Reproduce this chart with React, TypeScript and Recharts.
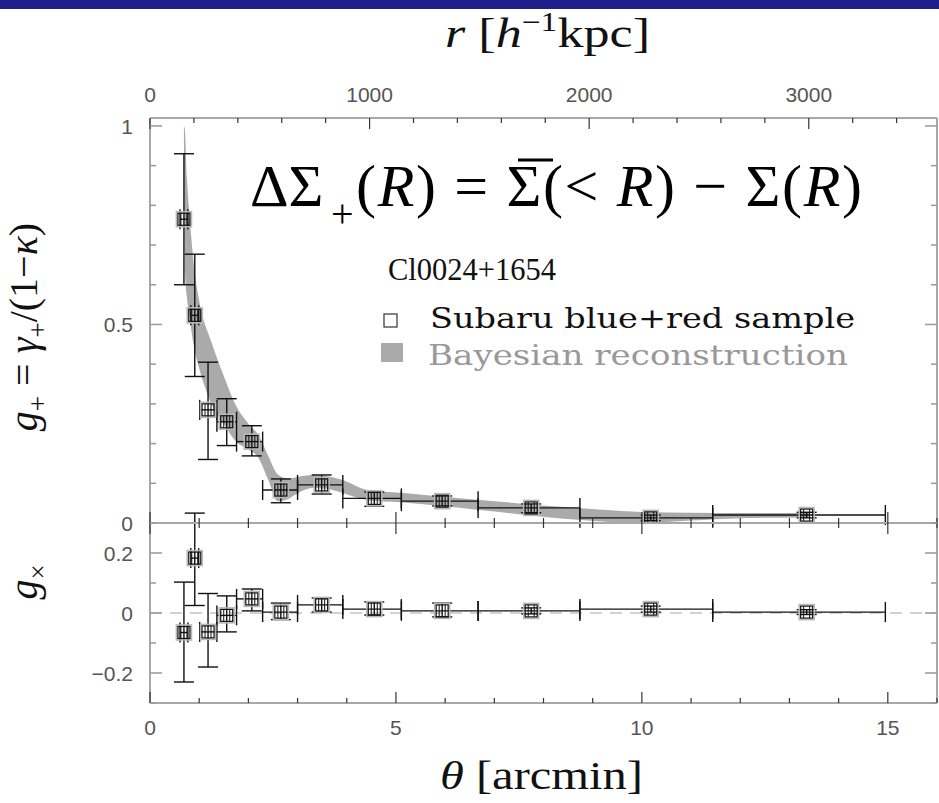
import React from "react";
import { ComposedChart, Area, Scatter, XAxis, YAxis, ErrorBar, ReferenceLine } from "recharts";

/* radial bins [arcmin] */
const theta = [0.69, 0.91, 1.18, 1.56, 2.07, 2.66, 3.49, 4.56, 5.94, 7.75, 10.18, 13.35];
const binLo = [0.61, 0.83, 1.01, 1.36, 1.76, 2.29, 3.0, 3.92, 5.11, 6.67, 8.74, 11.44];
const binHi = [0.77, 0.99, 1.36, 1.76, 2.29, 3.0, 3.92, 5.11, 6.67, 8.74, 11.44, 14.95];

/* tangential shear g+ with error range */
const gPlus = [0.765, 0.523, 0.285, 0.255, 0.205, 0.083, 0.096, 0.062, 0.055, 0.038, 0.013, 0.02];
const gPlusLo = [0.6, 0.369, 0.16, 0.195, 0.169, 0.051, 0.073, 0.042, 0.043, 0.026, 0.006, 0.013];
const gPlusHi = [0.93, 0.677, 0.405, 0.313, 0.245, 0.111, 0.121, 0.078, 0.068, 0.048, 0.02, 0.027];

/* cross shear gx with error range */
const gCross = [-0.065, 0.183, -0.063, -0.008, 0.047, 0.003, 0.027, 0.013, 0.007, 0.007, 0.013, 0.003];
const gCrossLo = [-0.23, 0.025, -0.18, -0.063, 0.007, -0.022, 0.003, -0.007, -0.013, -0.003, 0.003, -0.005];
const gCrossHi = [0.103, 0.333, 0.065, 0.057, 0.08, 0.033, 0.05, 0.037, 0.033, 0.017, 0.023, 0.011];

/* Bayesian reconstruction band */
const bandTheta = [0.69, 0.71, 0.75, 0.8, 0.9, 1.0, 1.25, 1.5, 1.75, 2.0, 2.2, 2.4, 2.6, 2.8, 3.0, 3.3, 3.6, 3.9, 4.4, 5.1, 6.7, 8.7, 10.0, 11.0, 12.0, 13.4];
const bandLo = [0.97, 0.64, 0.57, 0.52, 0.44, 0.39, 0.3, 0.25, 0.205, 0.185, 0.165, 0.11, 0.055, 0.06, 0.075, 0.088, 0.086, 0.076, 0.058, 0.052, 0.033, 0.008, 0.0, 0.006, 0.012, 0.014];
const bandHi = [1.0, 0.99, 0.87, 0.78, 0.64, 0.56, 0.455, 0.37, 0.295, 0.25, 0.222, 0.17, 0.122, 0.112, 0.116, 0.121, 0.118, 0.109, 0.084, 0.076, 0.058, 0.038, 0.028, 0.026, 0.025, 0.025];

/* ticks */
const thetaTicks = [0, 1, 2, 3, 4, 5, 6, 7, 8, 9, 10, 11, 12, 13, 14, 15, 16];
const thetaMajor = [0, 5, 10, 15];
const kpcTicks = [0, 200, 400, 600, 800, 1000, 1200, 1400, 1600, 1800, 2000, 2200, 2400, 2600, 2800, 3000, 3200, 3400];
const kpcMajor = [0, 1000, 2000, 3000];
const plusTicks = [0, 0.1, 0.2, 0.3, 0.4, 0.5, 0.6, 0.7, 0.8, 0.9, 1];
const plusMajor = [0, 0.5, 1];
const crossTicks = [-0.3, -0.2, -0.1, 0, 0.1, 0.2, 0.3];
const crossMajor = [-0.2, 0, 0.2];

const THETA_MAX = 16;
const KPC_PER_ARCMIN = 224;

const plusData = theta.map((t, i) => ({
  x: t,
  y: gPlus[i],
  ex: [t - binLo[i], binHi[i] - t],
  ey: [gPlus[i] - gPlusLo[i], gPlusHi[i] - gPlus[i]],
}));
const crossData = theta.map((t, i) => ({
  x: t,
  y: gCross[i],
  ex: [t - binLo[i], binHi[i] - t],
  ey: [gCross[i] - gCrossLo[i], gCrossHi[i] - gCross[i]],
}));
const bandData = bandTheta.map((t, i) => ({ x: t, band: [bandLo[i], bandHi[i]] }));

const FRAME = "#a8a8a8";
const LABEL_FONT = "Liberation Sans";
const SERIF = "Liberation Serif";

const isIn = (list: number[], v: number) => list.some((m) => Math.abs(m - v) < 1e-6);
const fmt = (v: number) => (v < 0 ? "\u2212" + String(-v) : String(v));

/* tick renderers: lines drawn inward, labels only at major values */
const yTick = (major: number[], side: "left" | "right") => (p: any) => {
  const v = p.payload.value;
  const big = isIn(major, v);
  const len = big ? 12 : 6;
  const dir = side === "left" ? 1 : -1;
  return (
    <g>
      <line x1={p.x} x2={p.x + dir * len} y1={p.y} y2={p.y} stroke="#999" strokeWidth={1.5} />
      {big && side === "left" && (
        <text x={p.x - 17} y={p.y} dy="0.36em" textAnchor="end" fontFamily={LABEL_FONT} fontSize={21} fill="#555">
          {fmt(v)}
        </text>
      )}
    </g>
  );
};

const topTick = (major: number[]) => (p: any) => {
  const v = p.payload.value;
  const big = isIn(major, v);
  return (
    <g>
      <line x1={p.x} x2={p.x} y1={p.y} y2={p.y + (big ? 11 : 5)} stroke="#333" strokeWidth={1.2} />
      {big && (
        <text x={p.x} y={p.y - 16} textAnchor="middle" fontFamily={LABEL_FONT} fontSize={21} fill="#555">
          {v}
        </text>
      )}
    </g>
  );
};

const midTick = (p: any) => {
  const big = isIn(thetaMajor, p.payload.value);
  const len = big ? 11 : 5;
  return <line x1={p.x} x2={p.x} y1={p.y - len} y2={p.y + len} stroke="#333" strokeWidth={1.2} />;
};

const bottomTick = (p: any) => {
  const v = p.payload.value;
  const big = isIn(thetaMajor, v);
  return (
    <g>
      <line x1={p.x} x2={p.x} y1={p.y} y2={p.y - (big ? 11 : 5)} stroke="#333" strokeWidth={1.2} />
      {big && (
        <text x={p.x} y={p.y + 32} textAnchor="middle" fontFamily={LABEL_FONT} fontSize={21} fill="#555">
          {v}
        </text>
      )}
    </g>
  );
};

/* square marker with inner bars */
const Box = (p: any) => {
  const { cx, cy } = p;
  if (cx == null || cy == null) return <g />;
  return (
    <g>
      <rect x={cx - 7.5} y={cy - 7.5} width={15} height={15} fill="none" stroke="#b8b8b8" strokeWidth={1.6} />
      <rect x={cx - 6} y={cy - 6} width={12} height={12} fill="none" stroke="#111" strokeWidth={1.2} />
      <line x1={cx - 3} x2={cx - 3} y1={cy - 6} y2={cy + 6} stroke="#111" strokeWidth={1} />
      <line x1={cx + 3} x2={cx + 3} y1={cy - 6} y2={cy + 6} stroke="#111" strokeWidth={1} />
    </g>
  );
};
const NoMark = () => <g />;

const axisLine = { stroke: FRAME, strokeWidth: 2 };

const TopPanel = () => (
  <ComposedChart width={939} height={535} margin={{ top: 78, right: 0, bottom: 12, left: 90 }}>
    <XAxis xAxisId="t" dataKey="x" type="number" domain={[0, THETA_MAX]} allowDataOverflow hide />
    <XAxis
      xAxisId="r"
      dataKey="x"
      orientation="top"
      type="number"
      domain={[0, THETA_MAX * KPC_PER_ARCMIN]}
      allowDataOverflow
      ticks={kpcTicks}
      interval={0}
      height={40}
      tickSize={0}
      tickMargin={0}
      tickLine={false}
      axisLine={axisLine}
      tick={topTick(kpcMajor)}
    />
    <YAxis
      yAxisId="l"
      dataKey="y"
      type="number"
      domain={[0, 1.02]}
      allowDataOverflow
      ticks={plusTicks}
      interval={0}
      width={60}
      tickSize={0}
      tickMargin={0}
      tickLine={false}
      axisLine={axisLine}
      tick={yTick(plusMajor, "left")}
    />
    <YAxis
      yAxisId="rr"
      dataKey="y"
      orientation="right"
      type="number"
      domain={[0, 1.02]}
      allowDataOverflow
      ticks={plusTicks}
      interval={0}
      width={2}
      tickSize={0}
      tickMargin={0}
      tickLine={false}
      axisLine={axisLine}
      tick={yTick(plusMajor, "right")}
    />
    <Area
      xAxisId="t"
      yAxisId="l"
      data={bandData}
      dataKey="band"
      type="monotone"
      stroke="none"
      fill="#aaaaaa"
      fillOpacity={1}
      isAnimationActive={false}
    />
    <Scatter xAxisId="t" yAxisId="l" data={plusData} dataKey="y" shape={Box} isAnimationActive={false}>
      <ErrorBar dataKey="ex" direction="x" width={10} stroke="#111" strokeWidth={1.4} isAnimationActive={false} />
      <ErrorBar dataKey="ey" direction="y" width={10} stroke="#111" strokeWidth={1.4} isAnimationActive={false} />
    </Scatter>
    {/* invisible series so the top (kpc) and right axes are drawn */}
    <Scatter xAxisId="r" yAxisId="rr" data={plusData} dataKey="y" shape={NoMark} isAnimationActive={false} />
  </ComposedChart>
);

const BottomPanel = () => (
  <ComposedChart width={939} height={323} margin={{ top: 23, right: 0, bottom: 60, left: 90 }}>
    <XAxis
      xAxisId="t"
      dataKey="x"
      type="number"
      domain={[0, THETA_MAX]}
      allowDataOverflow
      ticks={thetaTicks}
      interval={0}
      height={40}
      tickSize={0}
      tickMargin={0}
      tickLine={false}
      axisLine={axisLine}
      tick={bottomTick}
    />
    <XAxis
      xAxisId="tt"
      dataKey="x"
      orientation="top"
      type="number"
      domain={[0, THETA_MAX]}
      allowDataOverflow
      ticks={thetaTicks}
      interval={0}
      height={20}
      tickSize={0}
      tickMargin={0}
      tickLine={false}
      axisLine={axisLine}
      tick={midTick}
    />
    <YAxis
      yAxisId="l"
      dataKey="y"
      type="number"
      domain={[-0.3, 0.3]}
      allowDataOverflow
      ticks={crossTicks}
      interval={0}
      width={60}
      tickSize={0}
      tickMargin={0}
      tickLine={false}
      axisLine={axisLine}
      tick={yTick(crossMajor, "left")}
    />
    <YAxis
      yAxisId="rr"
      dataKey="y"
      orientation="right"
      type="number"
      domain={[-0.3, 0.3]}
      allowDataOverflow
      ticks={crossTicks}
      interval={0}
      width={2}
      tickSize={0}
      tickMargin={0}
      tickLine={false}
      axisLine={axisLine}
      tick={yTick(crossMajor, "right")}
    />
    <ReferenceLine xAxisId="t" yAxisId="l" y={0} stroke="#c4c4c4" strokeWidth={1.5} strokeDasharray="12 8" />
    <Scatter xAxisId="t" yAxisId="l" data={crossData} dataKey="y" shape={Box} isAnimationActive={false}>
      <ErrorBar dataKey="ex" direction="x" width={10} stroke="#111" strokeWidth={1.4} isAnimationActive={false} />
      <ErrorBar dataKey="ey" direction="y" width={10} stroke="#111" strokeWidth={1.4} isAnimationActive={false} />
    </Scatter>
    <Scatter xAxisId="tt" yAxisId="rr" data={crossData} dataKey="y" shape={NoMark} isAnimationActive={false} />
  </ComposedChart>
);

const Overlay = () => (
  <svg width={939} height={803} style={{ position: "absolute", left: 0, top: 0, pointerEvents: "none" }}>
    <rect x={0} y={0} width={939} height={9} fill="#1f1f8c" />
    {/* top axis title */}
    <text x={445} y={47} fontFamily={SERIF} fontSize={42} fill="#111" textLength={205} lengthAdjust="spacingAndGlyphs">
      <tspan fontStyle="italic">r</tspan> [<tspan fontStyle="italic">h</tspan>
      <tspan dy={-16} fontSize={27}>{"\u22121"}</tspan>
      <tspan dy={16}>kpc]</tspan>
    </text>
    {/* bottom axis title */}
    <text x={440} y={789} fontFamily={SERIF} fontSize={40} fill="#111" textLength={203} lengthAdjust="spacingAndGlyphs">
      <tspan fontStyle="italic">θ</tspan> [arcmin]
    </text>
    {/* y titles */}
    <text transform="rotate(-90)" x={-327} y={37} textAnchor="middle" fontFamily={SERIF} fontSize={40} fill="#111">
      <tspan fontStyle="italic">g</tspan>
      <tspan dy={10} fontSize={27}>+</tspan>
      <tspan dy={-10}>{" = "}</tspan>
      <tspan fontStyle="italic">γ</tspan>
      <tspan dy={10} fontSize={27}>+</tspan>
      <tspan dy={-10}>{"/(1\u2212"}</tspan>
      <tspan fontStyle="italic">κ</tspan>)
    </text>
    <text transform="rotate(-90)" x={-582} y={37} textAnchor="middle" fontFamily={SERIF} fontSize={40} fill="#111">
      <tspan fontStyle="italic">g</tspan>
      <tspan dy={10} fontSize={27}>×</tspan>
    </text>
    {/* formula */}
    <text x={250} y={206} fontFamily={SERIF} fontSize={60} fill="#000">ΔΣ</text>
    <text x={331} y={227} fontFamily={SERIF} fontSize={40} fill="#000">+</text>
    <text x={356} y={206} fontFamily={SERIF} fontSize={60} fill="#000" textLength={506} lengthAdjust="spacing">
      (<tspan fontStyle="italic">R</tspan>) = Σ(&lt; <tspan fontStyle="italic">R</tspan>) − Σ(<tspan fontStyle="italic">R</tspan>)
    </text>
    <line x1={518} x2={553} y1={160} y2={160} stroke="#000" strokeWidth={3} />
    {/* legend */}
    <text x={388} y={280} fontFamily={SERIF} fontSize={32} fill="#111" textLength={168} lengthAdjust="spacingAndGlyphs">
      Cl0024+1654
    </text>
    <rect x={384} y={314} width={13} height={13} fill="none" stroke="#333" strokeWidth={1.2} />
    <text x={430} y={328} fontFamily="DejaVu Serif" fontSize={28} fill="#111" textLength={425} lengthAdjust="spacingAndGlyphs">
      Subaru blue+red sample
    </text>
    <rect x={381} y={343} width={22} height={19} fill="#aaaaaa" />
    <text x={428} y={365} fontFamily="DejaVu Serif" fontSize={28} fill="#999" textLength={420} lengthAdjust="spacingAndGlyphs">
      Bayesian reconstruction
    </text>
  </svg>
);

export default function App() {
  return (
    <div style={{ position: "fixed", left: 0, top: 0, width: 939, height: 803, background: "#fff", overflow: "hidden" }}>
      <div style={{ position: "absolute", left: 0, top: 0 }}>
        <TopPanel />
      </div>
      <div style={{ position: "absolute", left: 0, top: 480 }}>
        <BottomPanel />
      </div>
      <Overlay />
    </div>
  );
}
